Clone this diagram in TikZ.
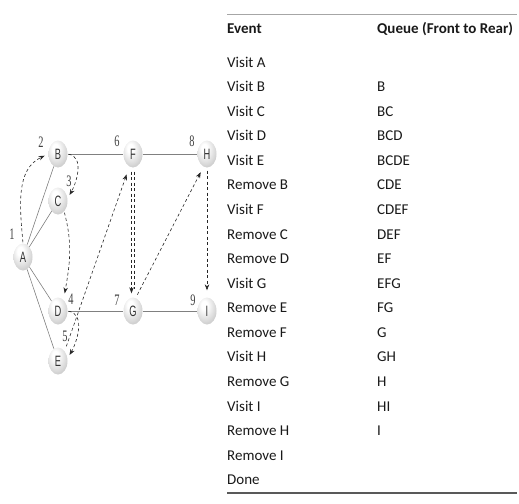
\documentclass[tikz,border=0pt]{standalone}
\usepackage{fontspec}
\setmainfont{Carlito}
\newfontfamily\numfont[FakeStretch=0.65]{Liberation Serif}
\newfontfamily\letfont[FakeStretch=0.62]{Liberation Sans}
\usetikzlibrary{arrows.meta,shapes.geometric}
\pgfdeclareradialshading{nodeball}{\pgfqpoint{-8bp}{12bp}}{color(0bp)=(white); color(8bp)=(white); color(25bp)=(gray!28); color(40bp)=(gray!55); color(55bp)=(gray!75); color(70bp)=(gray!85)}
\begin{document}
\begin{tikzpicture}[x=1pt,y=-1pt,
  vtx/.style={ellipse, minimum width=19pt, minimum height=27pt, inner sep=0pt, shading=nodeball, font=\letfont\fontsize{15}{15}\selectfont, text=black!80},
  num/.style={font=\numfont\fontsize{16}{16}\selectfont, text=black!75, inner sep=0pt},
  link/.style={draw=gray, line width=0.6pt},
  arr/.style={draw=black!85, line width=0.6pt, dash pattern=on 3pt off 2.5pt, -{Stealth[length=6pt,width=4.5pt]}, shorten >=4pt, shorten <=1pt},
  trow/.style={anchor=base west, inner sep=0pt, font=\fontsize{15}{15}\selectfont, text=black!90}]
\useasboundingbox (0,0) rectangle (519,503);

% vertices
\node[vtx] (A) at (23,257) {A};
\node[vtx] (B) at (58,154) {B};
\node[vtx] (C) at (58,201) {C};
\node[vtx] (D) at (58,311) {D};
\node[vtx] (E) at (58,361) {E};
\node[vtx] (F) at (133,154) {F};
\node[vtx] (G) at (133,311) {G};
\node[vtx] (H) at (207,154) {H};
\node[vtx] (I) at (207,311) {I};

% visit numbers
\node[num] (n1) at (12,234) {1};
\node[num] (n2) at (41,142) {2};
\node[num] (n3) at (69,181) {3};
\node[num] (n4) at (71,299) {4};
\node[num] (n5) at (65,336) {5};
\node[num] (n6) at (117,141) {6};
\node[num] (n7) at (117,300) {7};
\node[num] (n8) at (192,141) {8};
\node[num] (n9) at (193,300) {9};

% graph edges
\draw[link] (A) -- (B);
\draw[link] (A) -- (C);
\draw[link] (A) -- (D);
\draw[link] (A) -- (E);
\draw[link] (B) -- (F);
\draw[link] (F) -- (H);
\draw[link] (D) -- (G);
\draw[link] (G) -- (I);

% traversal arrows
\draw[arr] (A.north) to[out=95,in=205] (B.west);
\draw[arr] (B.east) to[out=-10,in=60] (C.15);
\draw[arr] (C.-60) to[out=-75,in=80] ([xshift=6pt]D.north);
\draw[arr] (D.east) to[out=-10,in=60] (E.15);
\draw[arr, shorten >=7pt] ([xshift=8pt]E.north) -- ([xshift=-4pt]F.south);
\draw[arr, shorten <=4pt, shorten >=4pt] ([xshift=-1.5pt]F.south) -- ([xshift=-1.5pt]G.north);
\draw[draw=black!85, line width=0.6pt, dash pattern=on 3pt off 2.5pt, shorten <=4pt, shorten >=8pt] ([xshift=1.5pt]F.south) -- ([xshift=1.5pt]G.north);
\draw[arr, shorten <=3pt, shorten >=5pt] ([xshift=3pt]G.north) -- ([xshift=-4pt]H.south);
\draw[arr, shorten <=3pt, shorten >=7pt] (H.south) -- (I.north);

% table
\draw[gray!70, line width=0.8pt] (227,14) -- (517,14);
\node[trow, font=\fontsize{15}{15}\selectfont\bfseries] (hev) at (227,34) {Event};
\node[trow, font=\fontsize{15}{15}\selectfont\bfseries] (hqu) at (377,34) {Queue (Front to Rear)};
\foreach \ev/\qu [count=\i from 0] in {Visit A/{}, Visit B/B, Visit C/BC, Visit D/BCD, Visit E/BCDE, Remove B/CDE, Visit F/CDEF, Remove C/DEF, Remove D/EF, Visit G/EFG, Remove E/FG, Remove F/G, Visit H/GH, Remove G/H, Visit I/HI, Remove H/I, Remove I/{}, Done/{}}{
  \pgfmathsetmacro\yy{67+24.58*\i}
  \node[trow] (ev\i) at (227,\yy) {\ev};
  \node[trow] (qu\i) at (377,\yy) {\qu};
}
\draw[black!65, line width=1.5pt] (227,493) -- (517,493);
\end{tikzpicture}
\end{document}
